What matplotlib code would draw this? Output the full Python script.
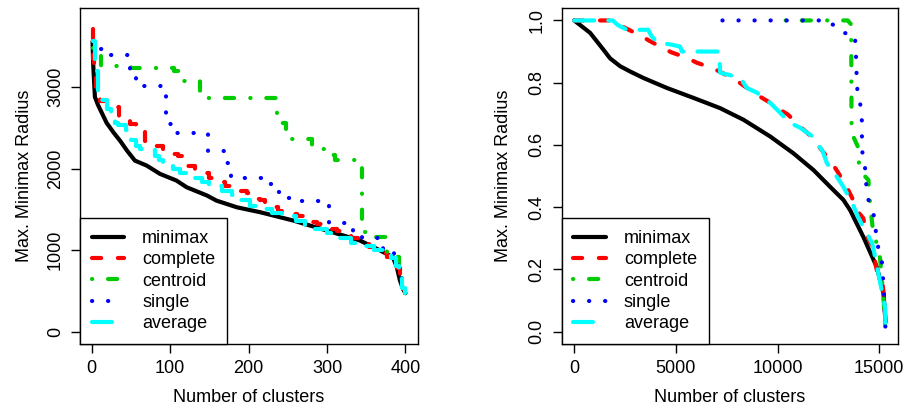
import matplotlib
matplotlib.use('Agg')
import matplotlib.pyplot as plt

plt.rcParams['font.family'] = ['Liberation Sans', 'DejaVu Sans']
plt.rcParams['font.size'] = 13

methods = ['minimax', 'complete', 'centroid', 'single', 'average']
colors = ['black', '#ff0000', '#00cd00', '#0000ff', '#00ffff']

# left panel: 400 clusters
left_minimax_x = [1, 2, 4, 8, 12, 19, 28, 36, 45, 55, 70, 87, 108, 121, 147, 159, 185, 215, 257, 300, 342, 368, 384, 389, 393, 397, 400]
left_minimax_y = [3560, 3250, 2880, 2780, 2700, 2560, 2440, 2343, 2220, 2098, 2037, 1935, 1853, 1771, 1669, 1607, 1525, 1464, 1362, 1239, 1117, 994, 912, 789, 626, 520, 470]

left_complete_x = [1, 2, 3, 5, 11, 20, 27, 35, 42, 49, 56, 62, 68, 75, 81, 91, 100, 110, 119, 132, 141, 149, 159, 170, 180,
                   189, 198, 206, 214, 221, 230, 238, 246, 253, 262, 272, 280, 287, 296, 306, 313, 319, 330, 340, 346,
                   354, 360, 368, 377, 384, 389, 393, 397, 400]
left_complete_y = [3714, 3350, 3130, 3000, 2830, 2780, 2750, 2650, 2600, 2550, 2520, 2500, 2340, 2310, 2280, 2200, 2180, 2150, 2037, 2000, 1950, 1890, 1830, 1790, 1760,
                   1730, 1700, 1630, 1610, 1580, 1530, 1485, 1460, 1445, 1420, 1385, 1350, 1325, 1290, 1260, 1230, 1200, 1150, 1090, 1080,
                   1040, 1010, 960, 910, 870, 780, 630, 520, 470]

left_centroid_x = [1, 12, 50, 105, 115, 138, 236, 248, 281, 300, 310, 345, 360, 377, 388, 392, 395, 398, 400]
left_centroid_y = [3480, 3264, 3230, 3200, 3080, 2871, 2560, 2360, 2240, 2172, 2110, 1220, 1160, 960, 910, 760, 620, 520, 470]

left_single_x = [1, 8, 14, 49, 56, 65, 95, 103, 148, 168, 178, 225, 236, 250, 262, 303, 333, 345, 372, 385, 390, 394, 397, 400]
left_single_y = [3560, 3470, 3400, 3215, 3092, 3018, 2550, 2440, 2210, 2074, 1890, 1816, 1718, 1640, 1607, 1337, 1230, 1153, 960, 870, 780, 640, 520, 470]

left_average_x = [1, 4, 8, 12, 19, 25, 30, 34, 44, 50, 56, 62, 74, 80, 86, 91, 104, 112, 125, 141, 150, 166, 179, 190, 202,
                  219, 230, 243, 260, 272, 285, 300, 315, 330, 345, 360, 374, 382, 388, 392, 396, 400]
left_average_y = [3570, 3200, 2950, 2840, 2730, 2640, 2560, 2530, 2470, 2350, 2280, 2245, 2230, 2150, 2100, 2070, 2000, 1950, 1890, 1830, 1790, 1730, 1670, 1610, 1545,
                  1510, 1460, 1420, 1360, 1310, 1260, 1215, 1150, 1090, 1055, 1000, 957, 900, 800, 680, 540, 470]

# right panel: ~15300 clusters, normalised radius
right_minimax_x = [1, 300, 787, 1115, 1440, 1770, 2260, 2750, 3410, 4560, 5870, 7180, 8320, 9640, 10780, 11770, 12590, 13240, 13570, 14220, 14880, 15210, 15310]
right_minimax_y = [1.0, 0.985, 0.960, 0.933, 0.906, 0.878, 0.853, 0.836, 0.815, 0.783, 0.751, 0.718, 0.681, 0.627, 0.573, 0.519, 0.465, 0.423, 0.390, 0.304, 0.207, 0.122, 0.03]

right_complete_x = [1, 1940, 2350, 2840, 3330, 3740, 4310, 4800, 5540, 6030, 6770, 7260, 7920, 8410, 9140, 9550, 10130, 10520,
                    11110, 11460, 11930, 12090, 12670, 12990, 13400, 13650, 13960, 14210, 14450, 14650, 14880, 15130, 15250, 15310]
right_complete_y = [1.0, 1.0, 0.981, 0.965, 0.949, 0.933, 0.913, 0.897, 0.880, 0.864, 0.848, 0.832, 0.810, 0.787, 0.755, 0.739, 0.713, 0.697,
                    0.658, 0.639, 0.606, 0.590, 0.542, 0.510, 0.465, 0.432, 0.384, 0.365, 0.300, 0.277, 0.197, 0.174, 0.10, 0.03]

right_centroid_x = [10400, 13450, 13620, 13640, 13730, 13950, 13980, 14140, 14470, 14500, 14600, 14700, 14950, 15040, 15200, 15310]
right_centroid_y = [1.0, 1.0, 0.987, 0.63, 0.626, 0.594, 0.548, 0.51, 0.487, 0.446, 0.38, 0.32, 0.268, 0.235, 0.12, 0.0]

right_single_x = [7290, 12500, 12590, 13080, 13240, 13800, 13850, 13900, 13950, 14140, 14150, 14180, 14310, 14360, 14440, 14800, 14850, 15010, 15140, 15250, 15310]
right_single_y = [1.0, 1.0, 0.99, 0.977, 0.96, 0.955, 0.90, 0.80, 0.752, 0.716, 0.616, 0.565, 0.523, 0.474, 0.429, 0.36, 0.30, 0.253, 0.22, 0.1, 0.0]

right_average_x = [1, 1900, 2150, 2600, 3640, 3800, 4080, 4800, 5210, 5300, 7130, 7150, 7180, 8160, 8490, 8980, 9640, 10130, 10620, 11110,
                   11750, 12240, 12420, 12920, 13240, 13720, 13960, 14650, 14700, 15290, 15310]
right_average_y = [1.0, 1.0, 0.985, 0.97, 0.97, 0.95, 0.93, 0.922, 0.916, 0.90, 0.90, 0.87, 0.832, 0.816, 0.783, 0.768, 0.735, 0.703, 0.671, 0.655,
                   0.626, 0.577, 0.542, 0.497, 0.465, 0.406, 0.368, 0.284, 0.271, 0.077, 0.0]

left_series = [(left_minimax_x, left_minimax_y), (left_complete_x, left_complete_y),
               (left_centroid_x, left_centroid_y), (left_single_x, left_single_y),
               (left_average_x, left_average_y)]
right_series = [(right_minimax_x, right_minimax_y), (right_complete_x, right_complete_y),
                (right_centroid_x, right_centroid_y), (right_single_x, right_single_y),
                (right_average_x, right_average_y)]

# R-like line types: solid, dashed, dotdash, dotted, longdash
dash_styles = [None, (0, (2.2, 4.0)), (0, (0.05, 3.8, 2.2, 3.9)), (0, (0.05, 3.8)), (0, (4.8, 3.4))]
left_steps = [False, True, True, True, True]


def draw_panel(ax, series, steps):
    for (x, y), col, ls, st, name in zip(series, colors, dash_styles, steps, methods):
        kw = dict(color=col, lw=3, solid_capstyle='round', dash_capstyle='round', label=name)
        if ls is not None:
            kw['linestyle'] = ls
        if st:
            kw['drawstyle'] = 'steps-post'
        ax.plot(x, y, **kw)
    leg = ax.legend(loc='lower left', bbox_to_anchor=(0, 0), borderaxespad=0, fancybox=False,
                    edgecolor='black', framealpha=1, handlelength=1.8, handletextpad=1.0,
                    labelspacing=0.24, borderpad=0.65)
    leg.get_frame().set_linewidth(1.0)
    for s in ax.spines.values():
        s.set_linewidth(1.0)
    ax.tick_params(length=6.5, width=1.0, pad=5)
    for lab in ax.get_yticklabels():
        lab.set_rotation(90)
        lab.set_va('center')
    ax.set_xlabel('Number of clusters')
    ax.set_ylabel('Max. Minimax Radius')


fig = plt.figure(figsize=(9.07, 4.16), dpi=100)
ax1 = fig.add_axes([80 / 907, 1 - 344 / 416, 338 / 907, 336 / 416])
ax2 = fig.add_axes([561.7 / 907, 1 - 344 / 416, 336.3 / 907, 336 / 416])

ax1.set_xlim(-15, 416)
ax1.set_ylim(-153, 3971)
ax1.set_xticks([0, 100, 200, 300, 400])
ax1.set_yticks([0, 1000, 2000, 3000])
draw_panel(ax1, left_series, left_steps)

ax2.set_xlim(-611, 15922)
ax2.set_ylim(-0.04, 1.04)
ax2.set_xticks([0, 5000, 10000, 15000])
ax2.set_yticks([0.0, 0.2, 0.4, 0.6, 0.8, 1.0])
ax2.set_yticklabels(['0.0', '0.2', '0.4', '0.6', '0.8', '1.0'])
draw_panel(ax2, right_series, [False] * 5)

ax1.yaxis.set_label_coords(-0.139, 0.5)
ax2.yaxis.set_label_coords(-0.148, 0.5)
ax1.xaxis.set_label_coords(0.5, -0.135)
ax2.xaxis.set_label_coords(0.5, -0.135)

plt.savefig('out.png', dpi=100)
